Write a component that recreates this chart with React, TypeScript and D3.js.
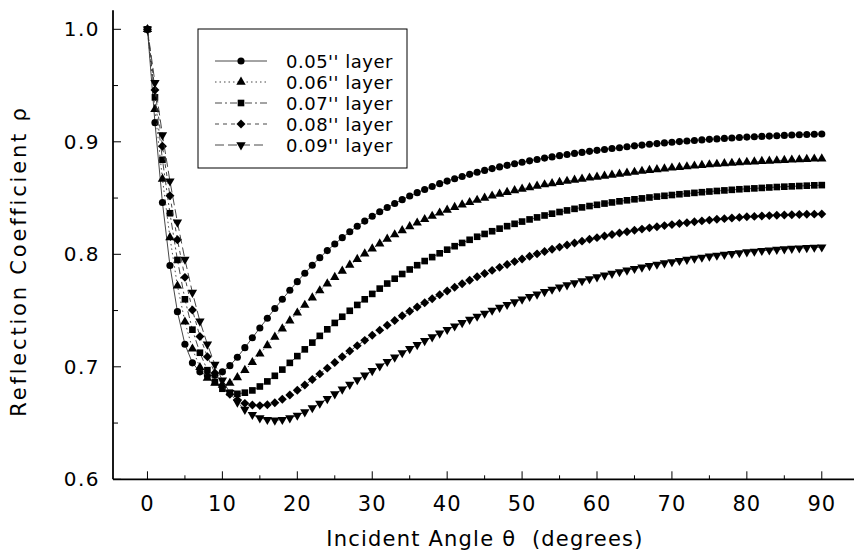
import React from "react";
import * as d3 from "d3";

const angles: number[] = d3.range(0, 91);

const layer005: number[] = [
  1.0, 0.917, 0.846, 0.79, 0.749, 0.72, 0.7035, 0.6955, 0.692, 0.6925,
  0.6955, 0.701, 0.7085, 0.717, 0.7258, 0.7345, 0.7432, 0.7518, 0.76, 0.768,
  0.7757, 0.7832, 0.7903, 0.797, 0.8033, 0.8092, 0.8148, 0.82, 0.8249, 0.8295,
  0.8338, 0.8378, 0.8416, 0.8452, 0.8486, 0.8518, 0.8548, 0.8576, 0.8603, 0.8628,
  0.8651, 0.8672, 0.8692, 0.8711, 0.8729, 0.8746, 0.8762, 0.8777, 0.8791, 0.8805,
  0.8818, 0.8831, 0.8843, 0.8855, 0.8866, 0.8877, 0.8887, 0.8897, 0.8906, 0.8915,
  0.8924, 0.8932, 0.894, 0.8947, 0.8956, 0.8964, 0.8971, 0.8978, 0.8984, 0.899,
  0.8996, 0.9002, 0.9007, 0.9012, 0.9017, 0.9022, 0.9026, 0.903, 0.9034, 0.9038,
  0.9042, 0.9045, 0.9048, 0.9051, 0.9054, 0.9057, 0.906, 0.9063, 0.9065, 0.9067,
  0.9069,
];

const layer006: number[] = [
  1.0, 0.929, 0.867, 0.815, 0.772, 0.74, 0.716, 0.6995, 0.69, 0.6855,
  0.6838, 0.6855, 0.6905, 0.697, 0.704, 0.7115, 0.719, 0.7265, 0.7338, 0.741,
  0.748, 0.7548, 0.7614, 0.7677, 0.7738, 0.7796, 0.7852, 0.7905, 0.7956, 0.8005,
  0.805, 0.8094, 0.8136, 0.8175, 0.8212, 0.8247, 0.828, 0.8311, 0.834, 0.8368,
  0.8394, 0.8418, 0.8441, 0.8462, 0.8482, 0.8501, 0.8519, 0.8536, 0.8552, 0.8567,
  0.8581, 0.8594, 0.8607, 0.8619, 0.863, 0.8641, 0.8651, 0.8661, 0.867, 0.8679,
  0.8687, 0.8696, 0.8705, 0.8714, 0.8723, 0.8731, 0.8739, 0.8747, 0.8754, 0.8761,
  0.8768, 0.8774, 0.878, 0.8786, 0.8792, 0.8797, 0.8802, 0.8807, 0.8811, 0.8815,
  0.8819, 0.8823, 0.8827, 0.883, 0.8833, 0.8836, 0.8839, 0.8842, 0.8845, 0.8848,
  0.885,
];

const layer007: number[] = [
  1.0, 0.9395, 0.884, 0.8365, 0.795, 0.76, 0.733, 0.7125, 0.697, 0.6865,
  0.6805, 0.677, 0.676, 0.677, 0.679, 0.6825, 0.687, 0.692, 0.6975, 0.7035,
  0.7095, 0.7155, 0.7215, 0.7275, 0.7333, 0.739, 0.7445, 0.7498, 0.755, 0.76,
  0.7648, 0.7695, 0.774, 0.7783, 0.7825, 0.7865, 0.7903, 0.794, 0.7975, 0.8009,
  0.8041, 0.8072, 0.8101, 0.8129, 0.8156, 0.8181, 0.8205, 0.8228, 0.825, 0.8271,
  0.8291, 0.831, 0.8328, 0.8345, 0.8361, 0.8376, 0.839, 0.8404, 0.8417, 0.8429,
  0.844, 0.8451, 0.8461, 0.8471, 0.848, 0.8489, 0.8497, 0.8505, 0.8513, 0.852,
  0.8527, 0.8534, 0.854, 0.8546, 0.8552, 0.8558, 0.8563, 0.8568, 0.8573, 0.8578,
  0.8582, 0.8586, 0.859, 0.8594, 0.8598, 0.8601, 0.8604, 0.8607, 0.861, 0.8613,
  0.8615,
];

const layer008: number[] = [
  1.0, 0.946, 0.896, 0.852, 0.813, 0.7795, 0.7505, 0.727, 0.709, 0.6945,
  0.6835, 0.6755, 0.6705, 0.6675, 0.666, 0.6655, 0.6662, 0.668, 0.6712, 0.675,
  0.6792, 0.6838, 0.6887, 0.6937, 0.6988, 0.7039, 0.709, 0.714, 0.7188, 0.7235,
  0.7281, 0.7326, 0.737, 0.7412, 0.7453, 0.7493, 0.7532, 0.7569, 0.7605, 0.764,
  0.7674, 0.7707, 0.7739, 0.777, 0.78, 0.7829, 0.7857, 0.7884, 0.791, 0.7935,
  0.7959, 0.7982, 0.8004, 0.8025, 0.8045, 0.8064, 0.8082, 0.81, 0.8117, 0.8133,
  0.8148, 0.8162, 0.8176, 0.8189, 0.8201, 0.8213, 0.8224, 0.8235, 0.8245, 0.8255,
  0.8264, 0.8273, 0.8281, 0.8289, 0.8297, 0.8304, 0.8311, 0.8317, 0.8323, 0.8328,
  0.8333, 0.8337, 0.8341, 0.8344, 0.8347, 0.835, 0.8352, 0.8354, 0.8356, 0.8357,
  0.8358,
];

const layer009: number[] = [
  1.0, 0.9526, 0.906, 0.865, 0.8285, 0.7955, 0.766, 0.7405, 0.72, 0.702,
  0.688, 0.677, 0.6685, 0.662, 0.6575, 0.6545, 0.653, 0.6525, 0.653, 0.6545,
  0.6568, 0.6598, 0.6635, 0.6675, 0.6716, 0.6758, 0.68, 0.6842, 0.6884, 0.6925,
  0.6965, 0.7006, 0.7046, 0.7085, 0.7123, 0.716, 0.7196, 0.7231, 0.7265, 0.7298,
  0.733, 0.7361, 0.7391, 0.742, 0.7448, 0.7475, 0.7501, 0.7527, 0.7552, 0.7576,
  0.76, 0.7623, 0.7645, 0.7667, 0.7688, 0.7708, 0.7727, 0.7746, 0.7764, 0.7781,
  0.7798, 0.7814, 0.7829, 0.7844, 0.7858, 0.7872, 0.7885, 0.7898, 0.791, 0.7922,
  0.7933, 0.7944, 0.7954, 0.7964, 0.7973, 0.7982, 0.799, 0.7998, 0.8006, 0.8013,
  0.802, 0.8026, 0.8032, 0.8037, 0.8042, 0.8047, 0.8051, 0.8055, 0.8058, 0.8061,
  0.8063,
];

const seriesLabels: string[] = [
  "0.05'' layer",
  "0.06'' layer",
  "0.07'' layer",
  "0.08'' layer",
  "0.09'' layer",
];
const seriesValues: number[][] = [layer005, layer006, layer007, layer008, layer009];
const dashPatterns: string[] = ["none", "1.5,3", "7,3,2,3", "4,4", "9,4"];

const xMajorTicks: number[] = [0, 10, 20, 30, 40, 50, 60, 70, 80, 90];
const xMinorTicks: number[] = [5, 15, 25, 35, 45, 55, 65, 75, 85];
const yMajorTicks: number[] = [0.6, 0.7, 0.8, 0.9, 1.0];
const yMinorTicks: number[] = [0.65, 0.75, 0.85, 0.95];

const W = 854;
const H = 556;
const FONT = "'DejaVu Sans', sans-serif";

const diamondSymbol: d3.SymbolType = {
  draw(context, size) {
    const r = Math.sqrt(size / 2);
    context.moveTo(0, -r);
    context.lineTo(r, 0);
    context.lineTo(0, r);
    context.lineTo(-r, 0);
    context.closePath();
  },
};

function symbolPath(i: number): { d: string; rot: number } {
  const types = [
    d3.symbolCircle,
    d3.symbolTriangle,
    d3.symbolSquare,
    diamondSymbol,
    d3.symbolTriangle,
  ];
  const sizes = [40, 38, 44, 40, 38];
  const d = d3.symbol().type(types[i]).size(sizes[i])() || "";
  return { d, rot: i === 4 ? 180 : 0 };
}

export default function App() {
  const x = d3.scaleLinear().domain([-4.6, 94.3]).range([113, 854]);
  const y = d3.scaleLinear().domain([0.6, 1.0]).range([479.3, 29.3]);
  const line = d3
    .line<number>()
    .x((_, i) => x(angles[i]))
    .y((v) => y(v));

  const legendRows = [61, 82, 103, 124, 145];

  return (
    <svg
      width={W}
      height={H}
      viewBox={`0 0 ${W} ${H}`}
      style={{ position: "absolute", left: 0, top: 0, background: "#fff" }}
    >
      <rect x={0} y={0} width={W} height={H} fill="#fff" />
      {/* axes */}
      <line x1={x(-4.6)} x2={x(94.3)} y1={y(0.6)} y2={y(0.6)} stroke="#000" strokeWidth={1.8} />
      <line x1={x(-4.6)} x2={x(-4.6)} y1={y(0.6)} y2={y(1.017)} stroke="#000" strokeWidth={1.8} />
      {xMajorTicks.map((t) => (
        <g key={"xm" + t}>
          <line x1={x(t)} x2={x(t)} y1={y(0.6)} y2={y(0.6) - 8} stroke="#000" strokeWidth={1} />
          <text x={x(t)} y={511} textAnchor="middle" fontFamily={FONT} fontSize={21} letterSpacing={1} fill="#000">
            {t}
          </text>
        </g>
      ))}
      {xMinorTicks.map((t) => (
        <line key={"xn" + t} x1={x(t)} x2={x(t)} y1={y(0.6)} y2={y(0.6) - 4} stroke="#000" strokeWidth={1} />
      ))}
      {yMajorTicks.map((t) => (
        <g key={"ym" + t}>
          <line x1={x(-4.6)} x2={x(-4.6) + 8} y1={y(t)} y2={y(t)} stroke="#000" strokeWidth={1} />
          <text x={100} y={y(t) + 7} textAnchor="end" fontFamily={FONT} fontSize={20} letterSpacing={1.5} fill="#000">
            {d3.format(".1f")(t)}
          </text>
        </g>
      ))}
      {yMinorTicks.map((t) => (
        <line key={"yn" + t} x1={x(-4.6)} x2={x(-4.6) + 5} y1={y(t)} y2={y(t)} stroke="#000" strokeWidth={1} />
      ))}
      <text
        x={485}
        y={546}
        textAnchor="middle"
        fontFamily={FONT}
        fontSize={21}
        letterSpacing={1.2}
        fill="#000"
        style={{ whiteSpace: "pre" }}
      >
        {"Incident Angle θ  (degrees)"}
      </text>
      <text
        transform="translate(26,261) rotate(-90)"
        textAnchor="middle"
        fontFamily={FONT}
        fontSize={21}
        letterSpacing={2.8}
        fill="#000"
      >
        Reflection Coefficient ρ
      </text>

      {/* series */}
      {seriesValues.map((vals, si) => {
        const sym = symbolPath(si);
        return (
          <g key={"s" + si}>
            <path
              d={line(vals) || ""}
              fill="none"
              stroke="#333"
              strokeWidth={0.9}
              strokeDasharray={dashPatterns[si]}
            />
            {vals.map((v, i) => (
              <path
                key={i}
                d={sym.d}
                transform={`translate(${x(angles[i])},${y(v)}) rotate(${sym.rot})`}
                fill="#000"
              />
            ))}
          </g>
        );
      })}

      {/* legend */}
      <rect x={198} y={29} width={209} height={139} fill="#fff" stroke="#000" strokeWidth={1} />
      {seriesLabels.map((lab, si) => {
        const sym = symbolPath(si);
        const ry = legendRows[si];
        return (
          <g key={"l" + si}>
            <line
              x1={215}
              x2={267}
              y1={ry}
              y2={ry}
              stroke="#333"
              strokeWidth={0.9}
              strokeDasharray={dashPatterns[si]}
            />
            <path d={sym.d} transform={`translate(241,${ry}) rotate(${sym.rot})`} fill="#000" />
            <text x={286} y={ry + 6.5} fontFamily={FONT} fontSize={18} letterSpacing={0.5} fill="#000">
              {lab}
            </text>
          </g>
        );
      })}
    </svg>
  );
}
